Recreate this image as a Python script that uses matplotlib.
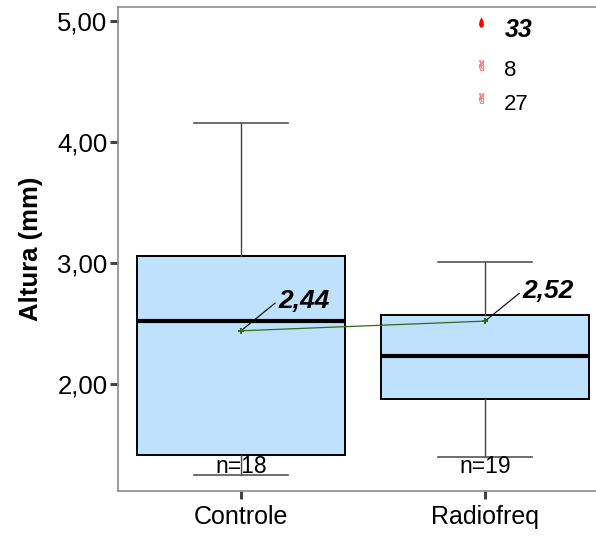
import numpy as np
import matplotlib.pyplot as plt
from matplotlib.path import Path

plt.rcParams['font.family'] = ['Liberation Sans', 'DejaVu Sans']

# --- data ---
groups = ['Controle', 'Radiofreq']
whis_lo = [1.25, 1.40]
q1 = [1.41, 1.88]
medians = [2.52, 2.23]
q3 = [3.06, 2.57]
whis_hi = [4.16, 3.01]
means = [2.44, 2.52]
mean_labels = ['2,44', '2,52']
n_obs = [18, 19]

# outliers (all in Radiofreq)
extreme_vals = [4.99]
extreme_ids = ['33']
outlier_vals = [4.64, 4.36]
outlier_ids = ['8', '27']

yticks = [2, 3, 4, 5]
ytick_labels = ['2,00', '3,00', '4,00', '5,00']

positions = [1, 2]
box_color = '#BEE1FC'

fig = plt.figure(figsize=(5.96, 5.41), dpi=100)
ax = fig.add_axes([118 / 596, 1 - 491 / 541, 1 - 118 / 596, (491 - 7) / 541])

stats = []
for i, g in enumerate(groups):
    stats.append(dict(label=g, whislo=whis_lo[i], q1=q1[i], med=medians[i],
                      q3=q3[i], whishi=whis_hi[i], fliers=[]))

ax.bxp(stats, positions=positions, widths=0.853, patch_artist=True,
       showfliers=False, showmeans=False,
       boxprops=dict(facecolor=box_color, edgecolor='black', linewidth=1.4),
       medianprops=dict(color='black', linewidth=3.0, solid_capstyle='butt'),
       whiskerprops=dict(color='#444444', linewidth=1.0),
       capprops=dict(color='#555555', linewidth=1.2),
       capwidths=0.385)

# line joining the means
ax.plot(positions, means, color='#2F6A1E', linewidth=0.9, zorder=4)
ax.scatter(positions, means, marker='P', s=22, color='#2F6A1E', zorder=5,
           linewidths=0)

for x, m, lab in zip(positions, means, mean_labels):
    ax.annotate(lab, xy=(x, m), xytext=(37, 30), textcoords='offset pixels',
                ha='left', va='center', fontsize=19, fontweight='bold',
                fontstyle='italic',
                arrowprops=dict(arrowstyle='-', color='black', linewidth=0.8,
                                relpos=(0, 0.5), shrinkA=0, shrinkB=0))

# n labels below the boxes
for x, n in zip(positions, n_obs):
    ax.text(x, 1.315, f'n={n}', ha='center', va='center', fontsize=16.5)

# outliers
t = np.linspace(0, 2 * np.pi, 60)
drop = Path(np.column_stack([0.6 * np.sin(t) * np.sin(t / 2), np.cos(t)]))
ax.scatter([2 - 0.015] * len(extreme_vals), extreme_vals, marker=drop, s=55,
           color='red', zorder=5, linewidths=0)
for v, lab in zip(extreme_vals, extreme_ids):
    ax.annotate(lab, xy=(2 - 0.015, v), xytext=(23, -8), textcoords='offset pixels',
                ha='left', va='center', fontsize=18, fontweight='bold',
                fontstyle='italic')

ax.scatter([2 - 0.015] * len(outlier_vals), outlier_vals, marker='$\u270C$', s=55,
           color='#F08080', zorder=5, linewidths=0.3)
for v, lab in zip(outlier_vals, outlier_ids):
    ax.annotate(lab, xy=(2 - 0.015, v), xytext=(23, -6), textcoords='offset pixels',
                ha='left', va='center', fontsize=16)

ax.set_xlim(0.496, 2.455)
ax.set_ylim(1.116, 5.116)
ax.set_xticks(positions)
ax.set_xticklabels(groups, fontsize=18)
ax.set_yticks(yticks)
ax.set_yticklabels(ytick_labels, fontsize=18.5)
ax.tick_params(axis='both', length=6, width=2.2, color='#444444', pad=1.5)
ax.tick_params(axis='x', pad=4)
ax.set_ylabel('Altura (mm)', fontsize=18.5, fontweight='bold', labelpad=10)

for side in ['left', 'top', 'bottom']:
    ax.spines[side].set_color('#8C8C8C')
    ax.spines[side].set_linewidth(1.2)
ax.spines['right'].set_visible(False)

fig.savefig('out.png', dpi=100)
